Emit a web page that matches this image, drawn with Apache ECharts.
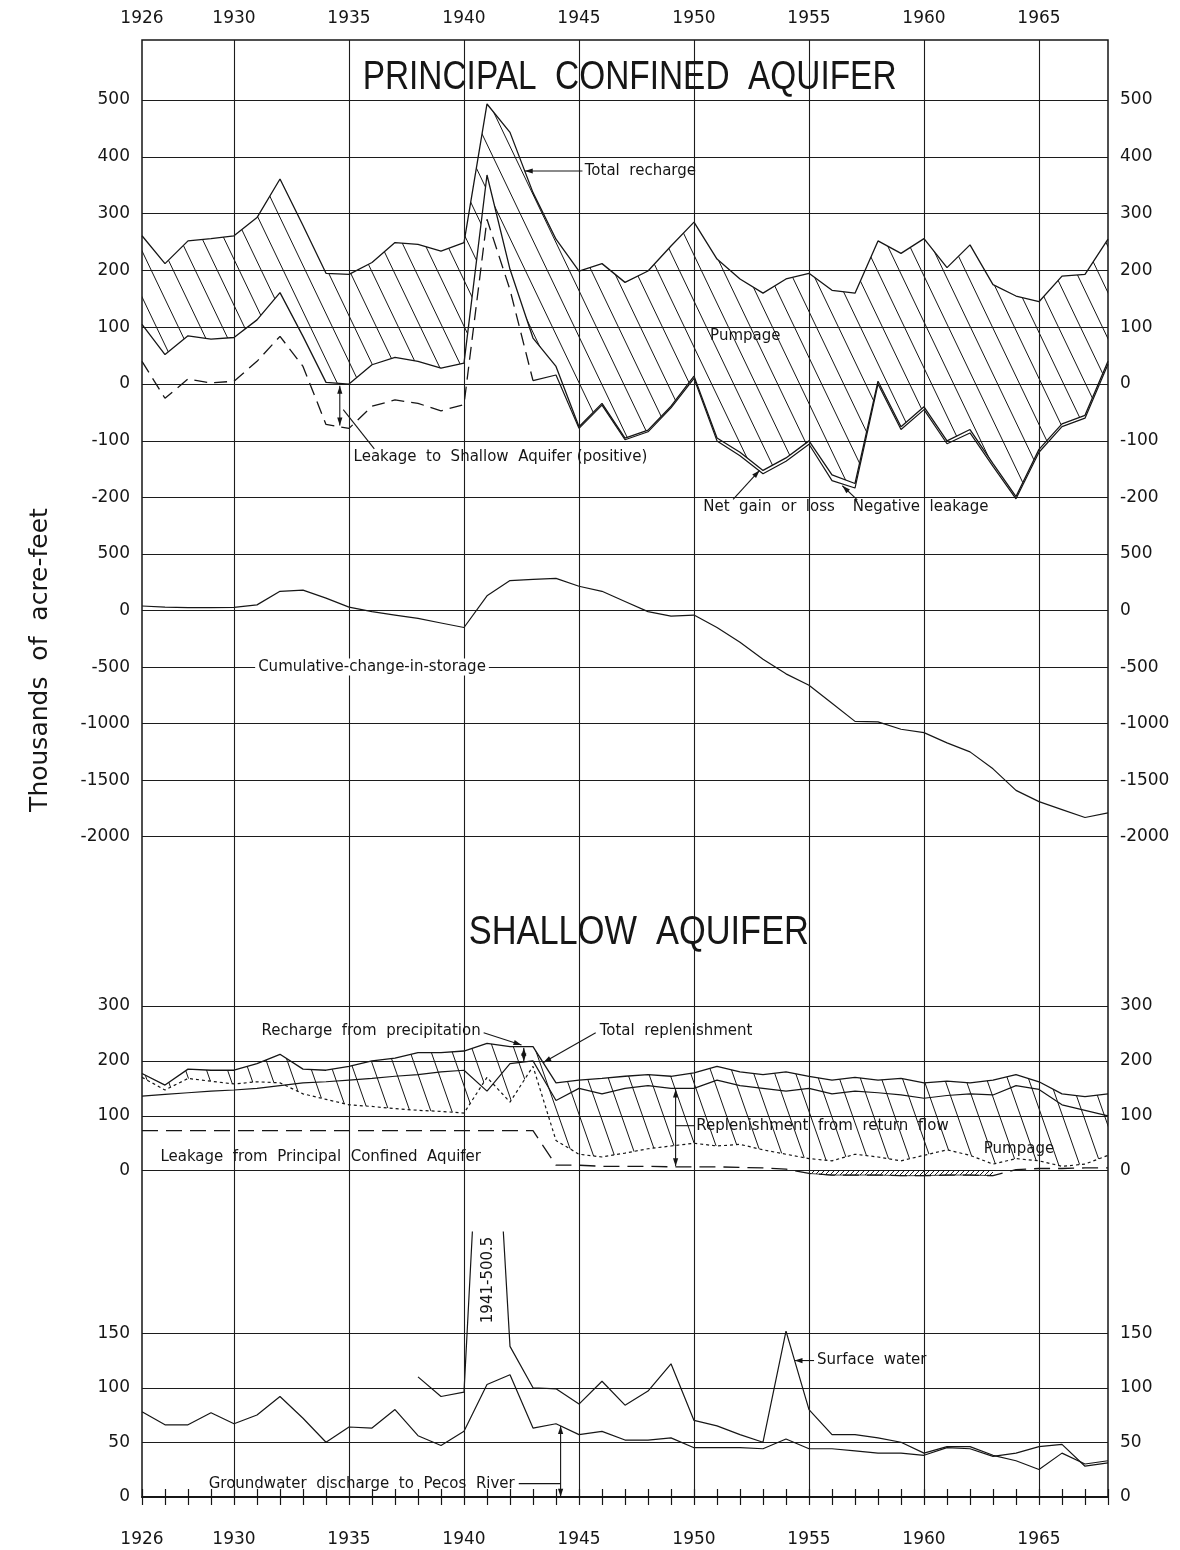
<!DOCTYPE html>
<html><head><meta charset="utf-8">
<script src="https://cdn.jsdelivr.net/npm/echarts@6/dist/echarts.min.js"></script>
<style>html,body{margin:0;padding:0;background:#fff}#c{width:1180px;height:1550px}</style>
</head><body><div id="c"></div>
<script>
// ---------------- DATA ----------------
const years = [1926,1927,1928,1929,1930,1931,1932,1933,1934,1935,1936,1937,1938,1939,1940,1941,1942,1943,1944,1945,1946,1947,1948,1949,1950,1951,1952,1953,1954,1955,1956,1957,1958,1959,1960,1961,1962,1963,1964,1965,1966,1967,1968];
const yearLabels = [1926,1930,1935,1940,1945,1950,1955,1960,1965];
const gridYears = [1930,1935,1940,1945,1950,1955,1960,1965];

// Principal confined aquifer (thousands of acre-feet)
const totalRecharge = [261,212,252,256,261,293,361,279,195,193,214,249,246,234,249,493,443,337,255,199,212,179,199,243,285,220,185,160,185,195,165,160,252,230,256,205,245,175,155,145,190,193,255];
const rechargeLessPumpage = [105,52,85,79,82,113,161,84,3,0,34,47,40,28,37,368,202,81,31,-75,-34,-95,-81,-39,14,-95,-120,-152,-130,-100,-160,-175,5,-75,-40,-100,-80,-140,-198,-115,-70,-55,40];
const netGainOrLoss = [40,-25,9,2,5,40,84,31,-71,-78,-39,-28,-34,-47,-36,290,166,6,16,-78,-37,-98,-84,-42,10,-100,-126,-158,-136,-106,-170,-183,0,-80,-45,-105,-86,-145,-202,-120,-75,-60,35];
const cumulativeStorage = [40,30,25,25,28,50,170,180,110,30,-10,-40,-70,-110,-150,130,265,275,285,215,170,80,-10,-50,-40,-150,-280,-430,-560,-660,-820,-980,-985,-1050,-1080,-1170,-1250,-1400,-1590,-1690,-1760,-1830,-1790];

// Shallow aquifer
const totalReplenishment = [177,156,185,183,183,195,212,185,183,190,200,205,215,215,218,232,226,226,160,165,168,172,175,172,178,190,180,175,180,172,165,170,165,168,160,163,160,165,175,162,140,135,140];
const leakagePlusReturnFlow = [136,139,142,145,147,150,155,160,162,165,168,172,175,180,183,145,195,200,128,150,140,150,155,150,150,165,155,150,145,150,140,145,142,138,132,137,140,138,155,148,120,110,100];
const replenishmentLessPumpage = [170,147,168,163,158,162,160,140,130,120,117,113,110,108,105,170,125,190,55,30,25,32,40,45,50,45,48,38,30,22,18,30,25,18,28,38,28,12,22,18,8,12,28];
const leakageFromPrincipal = [73,73,73,73,73,73,73,73,73,73,73,73,73,73,73,73,73,73,10,10,8,8,8,7,7,7,6,5,3,-5,-8,-8,-8,-9,-9,-8,-8,-9,2,4,4,5,5];

// Surface water and groundwater discharge to Pecos River
const surfaceWater = [null,null,null,null,null,null,null,null,null,null,null,null,110,92,96,500.5,138,100,99,85,106,84,97,122,70,65,57,50,152,80,57,57,54,50,40,46,46,38,33,25,40,30,33];
const pecosDischarge = [78,66,66,77,67,75,92,72,50,64,63,80,56,47,60,103,112,63,67,57,60,52,52,54,45,45,45,44,53,44,44,42,40,40,38,45,44,37,40,46,48,28,31];

// ---------------- HELPERS ----------------
const xy = arr => years.map((y, i) => [y, arr[i]]);
const INK = '#161616';
function hatch(w, h, lw, dir) {
  const c = document.createElement('canvas'); c.width = w; c.height = h;
  const g = c.getContext('2d'); g.strokeStyle = INK; g.lineWidth = lw; g.beginPath();
  for (const dx of [-w, 0, w]) {
    if (dir > 0) { g.moveTo(dx, 0); g.lineTo(dx + w, h); }
    else { g.moveTo(dx, h); g.lineTo(dx + w, 0); }
  }
  g.stroke();
  return { image: c, repeat: 'repeat' };
}
const hatchPrincipal = hatch(22, 46, 1, 1);
const hatchShallow = hatch(21, 60, 1, 1);
const hatchNeg = hatch(5, 5, 1, -1);

const LEFT = 142, RIGHT = 72;
const grids = [
  {left: LEFT, right: RIGHT, top: 40, height: 1457, show: true, borderColor: INK, borderWidth: 1.5, backgroundColor: 'transparent'},
  {left: LEFT, right: RIGHT, top: 100, height: 397.7},
  {left: LEFT, right: RIGHT, top: 554, height: 282.7},
  {left: LEFT, right: RIGHT, top: 1006, height: 164.7},
  {left: LEFT, right: RIGHT, top: 1333.3, height: 163.4},
  {left: LEFT, right: RIGHT, top: 1232, height: 264.7}
].map(g => Object.assign({containLabel: false, outerBoundsMode: 'none'}, g));

const LABEL_FONT = {color: INK, fontFamily: 'DejaVu Sans', fontSize: 17};
function xHidden(gi) { return {type: 'value', gridIndex: gi, min: 1926, max: 1968, show: false}; }
function xFrame(pos, margin) {
  return {type: 'value', gridIndex: 0, position: pos, min: 1926, max: 1968, interval: 1,
    axisLine: {show: true, lineStyle: {color: INK, width: 1.5}},
    axisTick: {show: true, inside: true, length: 8, lineStyle: {color: INK, width: 1.2}},
    splitLine: {show: false},
    axisLabel: Object.assign({show: true, margin: margin, formatter: v => yearLabels.includes(v) ? String(v) : ''}, LABEL_FONT)};
}
function yAx(gi, pos, min, max, interval, split) {
  return {type: 'value', gridIndex: gi, position: pos, min, max, interval,
    axisLine: {show: false}, axisTick: {show: false},
    splitLine: {show: split, lineStyle: {color: '#1c1c1c', width: 1.1}},
    axisLabel: Object.assign({show: true, margin: 12, formatter: v => String(v)}, LABEL_FONT)};
}

const base = {type: 'line', symbol: 'none', showSymbol: false, clip: false, silent: true, animation: false};
const ln = (w, type) => ({color: INK, width: w, type: type || 'solid'});

const series = [];
function add(s) { series.push(Object.assign({}, base, s)); return series.length - 1; }
// hatched band between two yearly series, drawn as one polygon per year step
function band(xi, yi, upper, lower, pattern) {
  const data = [];
  for (let i = 0; i < years.length - 1; i++) data.push([years[i], upper[i], lower[i], years[i + 1], upper[i + 1], lower[i + 1]]);
  series.push({type: 'custom', xAxisIndex: xi, yAxisIndex: yi, silent: true, animation: false, z: 1,
    data: data, encode: {x: [0, 3], y: [1, 2, 4, 5]},
    renderItem: (params, api) => {
      const a = api.coord([api.value(0), api.value(1)]);
      const b = api.coord([api.value(3), api.value(4)]);
      const c = api.coord([api.value(3), api.value(5)]);
      const d = api.coord([api.value(0), api.value(2)]);
      return {type: 'polygon', shape: {points: [a, b, c, d]}, style: {fill: pattern, stroke: null}};
    }});
}

// frame: vertical grid lines every 5 years
add({xAxisIndex: 0, yAxisIndex: 0, data: [[1926, 0]], lineStyle: {width: 0},
  markLine: {silent: true, symbol: ['none', 'none'], label: {show: false}, animation: false,
    lineStyle: {color: '#1c1c1c', width: 1.1, type: 'solid'}, data: gridYears.map(v => ({xAxis: v}))}});

// principal panel
band(2, 1, totalRecharge, rechargeLessPumpage, hatchPrincipal);
const iA = add({xAxisIndex: 2, yAxisIndex: 1, data: xy(totalRecharge), lineStyle: ln(1.3)});
add({xAxisIndex: 2, yAxisIndex: 1, data: xy(rechargeLessPumpage), lineStyle: ln(1.3)});
add({xAxisIndex: 2, yAxisIndex: 1, data: years.map((y, i) => [y, y <= 1943 ? netGainOrLoss[i] : null]), lineStyle: ln(1.3, [13, 7])});
add({xAxisIndex: 2, yAxisIndex: 1, data: years.map((y, i) => [y, y >= 1943 ? netGainOrLoss[i] : null]), lineStyle: ln(1.2)});

// cumulative panel
const iCum = add({xAxisIndex: 3, yAxisIndex: 3, data: xy(cumulativeStorage), lineStyle: ln(1.2)});

// shallow panel
band(4, 5, totalReplenishment, replenishmentLessPumpage, hatchShallow);
const iTop = add({xAxisIndex: 4, yAxisIndex: 5, data: xy(totalReplenishment), lineStyle: ln(1.3)});
add({xAxisIndex: 4, yAxisIndex: 5, data: xy(leakagePlusReturnFlow), lineStyle: ln(1.2)});
add({xAxisIndex: 4, yAxisIndex: 5, data: xy(replenishmentLessPumpage), lineStyle: ln(1.2, [3, 3])});
add({xAxisIndex: 4, yAxisIndex: 5, data: xy(leakageFromPrincipal), lineStyle: ln(1.3, [16, 8])});
add({xAxisIndex: 4, yAxisIndex: 5, data: years.map((y, i) => [y, leakageFromPrincipal[i] < 0 ? leakageFromPrincipal[i] : null]),
  lineStyle: {width: 0.8, color: INK}, areaStyle: {color: hatchNeg, opacity: 1}});

// bottom panel
const iDis = add({xAxisIndex: 5, yAxisIndex: 7, data: xy(pecosDischarge), lineStyle: ln(1.2)});
const iSW = add({xAxisIndex: 6, yAxisIndex: 9, data: xy(surfaceWater), lineStyle: ln(1.2), clip: true});

const option = {
  animation: false,
  backgroundColor: '#fff',
  grid: grids,
  xAxis: [xFrame('top', 13), xFrame('bottom', 34), xHidden(1), xHidden(2), xHidden(3), xHidden(4), xHidden(5)],
  yAxis: [
    {type: 'value', gridIndex: 0, min: 0, max: 1, show: false},
    yAx(1, 'left', -200, 500, 100, true), yAx(1, 'right', -200, 500, 100, false),
    yAx(2, 'left', -2000, 500, 500, true), yAx(2, 'right', -2000, 500, 500, false),
    yAx(3, 'left', 0, 300, 100, true), yAx(3, 'right', 0, 300, 100, false),
    yAx(4, 'left', 0, 150, 50, true), yAx(4, 'right', 0, 150, 50, false),
    {type: 'value', gridIndex: 5, min: 0, max: 243, show: false}
  ],
  series: series
};

const chart = echarts.init(document.getElementById('c'), null, {renderer: 'canvas'});
chart.setOption(option);

// ---------------- ANNOTATIONS ----------------
const ANN = '15px "DejaVu Sans"';
const TITLE = '40px "Liberation Sans"';
const mctx = document.createElement('canvas').getContext('2d');
const tw = (s, f) => { mctx.font = f; return mctx.measureText(s).width; };
const P = (si, x, y) => chart.convertToPixel({seriesIndex: si}, [x, y]);
const els = [];
function text(p, s, o) {
  o = o || {};
  els.push({type: 'text', x: p[0], y: p[1], rotation: o.rot || 0, scaleX: o.sx || 1, silent: true, z: 100,
    style: {text: s, fill: INK, font: o.font || ANN, align: o.align || 'left', verticalAlign: 'middle',
      backgroundColor: o.bg, padding: o.bg ? [1, 3] : 0}});
}
function line(p1, p2) {
  els.push({type: 'line', silent: true, z: 100, shape: {x1: p1[0], y1: p1[1], x2: p2[0], y2: p2[1]}, style: {stroke: INK, lineWidth: 1.1}});
}
function head(from, tip, size) {
  size = size || 8;
  const a = Math.atan2(tip[1] - from[1], tip[0] - from[0]);
  const bx = tip[0] - size * Math.cos(a), by = tip[1] - size * Math.sin(a);
  const nx = -Math.sin(a) * 2.6, ny = Math.cos(a) * 2.6;
  els.push({type: 'polygon', silent: true, z: 100, shape: {points: [tip, [bx + nx, by + ny], [bx - nx, by - ny]]}, style: {fill: INK}});
}
function arrow(p1, p2, both) { line(p1, p2); head(p1, p2); if (both) head(p2, p1); }

// principal
text(P(iA, 1947.2, 539), 'PRINCIPAL  CONFINED  AQUIFER', {font: TITLE, align: 'center', sx: 0.835});
arrow(P(iA, 1945.15, 375), P(iA, 1942.64, 375));
text(P(iA, 1945.25, 375), 'Total  recharge');
text(P(iA, 1950.7, 84), 'Pumpage');
arrow(P(iA, 1934.6, -3), P(iA, 1934.6, -73), true);
line(P(iA, 1934.75, -45), P(iA, 1936.1, -114));
text(P(iA, 1935.2, -128), 'Leakage  to  Shallow  Aquifer (positive)');
text(P(iA, 1950.4, -217), 'Net  gain  or  loss');
arrow(P(iA, 1951.7, -203), P(iA, 1952.85, -152));
text(P(iA, 1956.9, -217), 'Negative  leakage');
arrow(P(iA, 1957.1, -204), P(iA, 1956.45, -179));

// cumulative
text(P(iCum, 1936.0, -500), 'Cumulative-change-in-storage', {align: 'center', bg: '#fff'});

// shallow
text(P(iTop, 1947.6, 433), 'SHALLOW  AQUIFER', {font: TITLE, align: 'center', sx: 0.86});
(function () {
  const s = 'Recharge  from  precipitation';
  const p = P(iTop, 1931.2, 255);
  text(p, s);
  const end = [p[0] + tw(s, ANN) + 3, p[1] + 2];
  arrow(end, P(iTop, 1942.5, 229));
})();
arrow(P(iTop, 1942.6, 224), P(iTop, 1942.6, 199), true);
(function () {
  const p = P(iTop, 1945.9, 255);
  text(p, 'Total  replenishment');
  arrow([p[0] - 4, p[1] + 2], P(iTop, 1943.45, 197));
})();
arrow(P(iTop, 1949.2, 148), P(iTop, 1949.2, 8), true);
line(P(iTop, 1949.2, 82), P(iTop, 1950.0, 82));
text(P(iTop, 1950.1, 82), 'Replenishment  from  return  flow');
text(P(iTop, 1962.6, 40), 'Pumpage');
text(P(iTop, 1926.8, 25), 'Leakage  from  Principal  Confined  Aquifer');

// bottom
(function () {
  const p = P(iDis, 1955.35, 125);
  text(p, 'Surface  water');
  arrow([p[0] - 3, p[1]], P(iDis, 1954.37, 125));
})();
(function () {
  const s = 'Groundwater  discharge  to  Pecos  River';
  const p = P(iDis, 1928.9, 12);
  text(p, s);
  const xEnd = P(iDis, 1944.2, 12);
  line([p[0] + tw(s, ANN) + 4, p[1]], xEnd);
  arrow(P(iDis, 1944.2, 65), P(iDis, 1944.2, 0), true);
})();
text(P(iSW, 1941.05, 199), '1941-500.5', {rot: Math.PI / 2, align: 'center'});

// y axis title
els.push({type: 'text', x: 40, y: 660, rotation: Math.PI / 2, silent: true,
  style: {text: 'Thousands  of  acre-feet', fill: INK, font: '25px "DejaVu Sans"', align: 'center', verticalAlign: 'middle'}});

chart.setOption({graphic: {elements: els}});
</script>
</body></html>
